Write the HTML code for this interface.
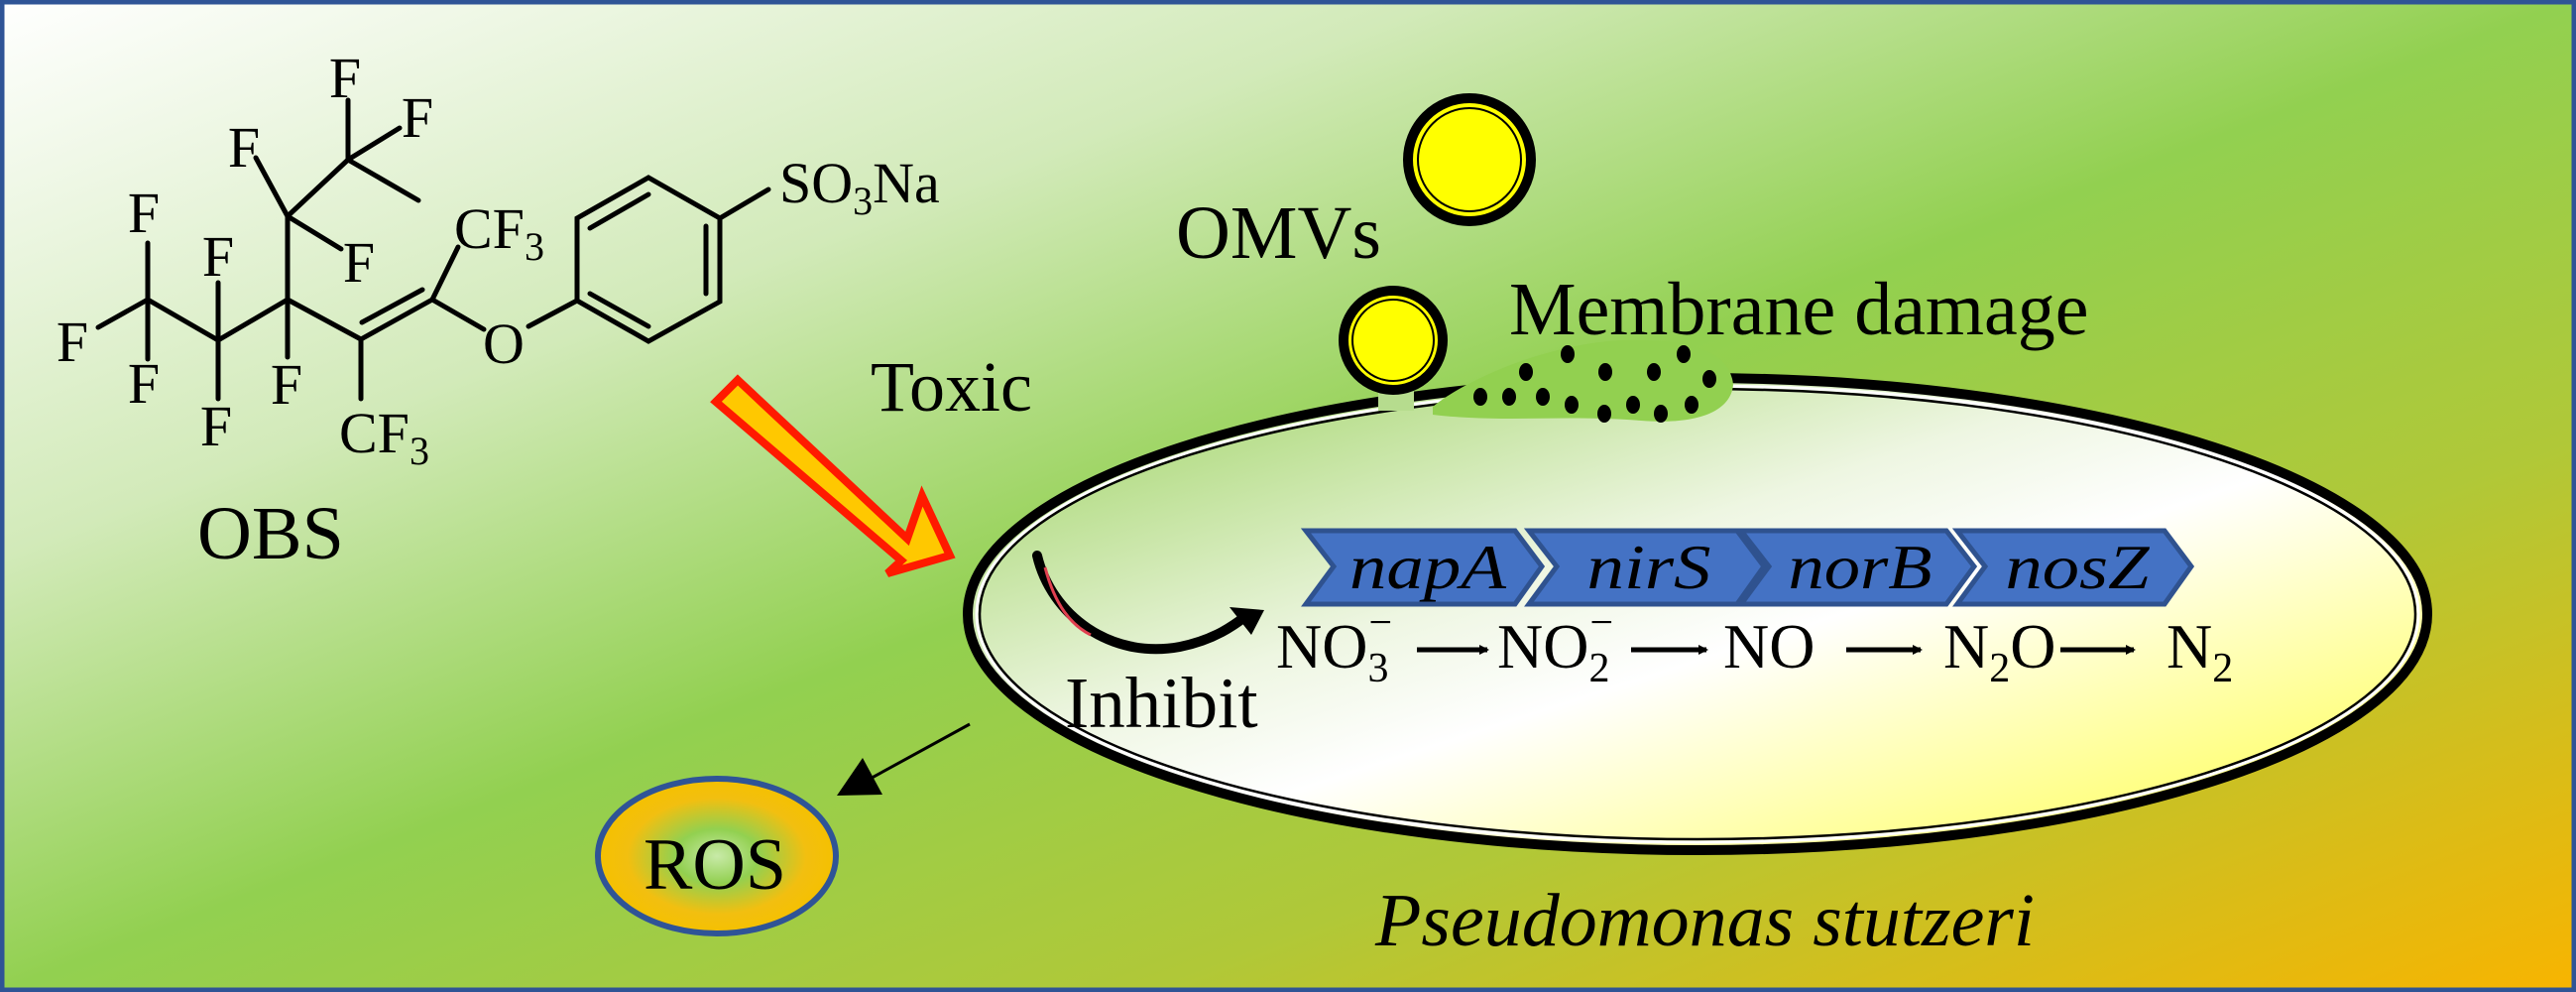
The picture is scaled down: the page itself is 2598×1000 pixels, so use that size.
<!DOCTYPE html>
<html><head><meta charset="utf-8"><style>
html,body{margin:0;padding:0}
body{width:2598px;height:1000px;overflow:hidden}
svg{display:block}
text{font-family:"Liberation Serif",serif;fill:#000}
</style></head><body>
<svg width="2598" height="1000" viewBox="0 0 2598 1000" xmlns="http://www.w3.org/2000/svg">
<defs>
<linearGradient id="bg" x1="0" y1="0" x2="1" y2="1">
<stop offset="0" stop-color="#ffffff"/>
<stop offset="0.28" stop-color="#d2eab9"/>
<stop offset="0.5" stop-color="#92d050"/>
<stop offset="0.72" stop-color="#b0c838"/>
<stop offset="1" stop-color="#f8b400"/>
</linearGradient>
<linearGradient id="cell" x1="0" y1="0" x2="1" y2="1">
<stop offset="0" stop-color="#98d05a"/>
<stop offset="0.4" stop-color="#eef6e2"/>
<stop offset="0.55" stop-color="#ffffff"/>
<stop offset="1" stop-color="#ffff40"/>
</linearGradient>
<radialGradient id="ros" cx="0.5" cy="0.5" r="0.5">
<stop offset="0" stop-color="#c8eaa8"/>
<stop offset="0.35" stop-color="#92d050"/>
<stop offset="0.75" stop-color="#f2bf10"/>
<stop offset="1" stop-color="#f5c000"/>
</radialGradient>
<marker id="ah" markerWidth="10" markerHeight="10" refX="8" refY="5" orient="auto" markerUnits="userSpaceOnUse" viewBox="0 0 10 10">
<path d="M0,0 L10,5 L0,10 z" fill="#000"/>
</marker>
</defs>
<rect x="0" y="0" width="2598" height="1000" fill="url(#bg)"/>
<rect x="2" y="2" width="2594" height="996" fill="none" stroke="#2f5496" stroke-width="5"/>

<!-- molecule -->
<g stroke="#000" stroke-width="5" fill="none" stroke-linecap="round">
<line x1="149" y1="302" x2="149" y2="245"/>
<line x1="149" y1="302" x2="99" y2="330"/>
<line x1="149" y1="302" x2="149" y2="362"/>
<line x1="149" y1="302" x2="220" y2="343"/>
<line x1="220" y1="343" x2="220" y2="285"/>
<line x1="220" y1="343" x2="220" y2="402"/>
<line x1="220" y1="343" x2="290" y2="302"/>
<line x1="290" y1="302" x2="290" y2="360"/>
<line x1="290" y1="302" x2="290" y2="218"/>
<line x1="290" y1="218" x2="258" y2="159"/>
<line x1="290" y1="218" x2="344" y2="251"/>
<line x1="290" y1="218" x2="351" y2="161"/>
<line x1="351" y1="161" x2="351" y2="101"/>
<line x1="351" y1="161" x2="403" y2="129"/>
<line x1="351" y1="161" x2="422" y2="202"/>
<line x1="290" y1="302" x2="364" y2="342"/>
<line x1="364" y1="342" x2="364" y2="402"/>
<line x1="364" y1="342" x2="436" y2="302"/>
<line x1="365" y1="325" x2="426" y2="292"/>
<line x1="436" y1="302" x2="462" y2="249"/>
<line x1="436" y1="302" x2="488" y2="332"/>
<line x1="533" y1="329" x2="582" y2="303"/>
<polygon points="582,303 582,220 654,179 726,220 726,304 654,344"/>
<line x1="595" y1="230" x2="654" y2="196"/>
<line x1="712" y1="228" x2="712" y2="296"/>
<line x1="595" y1="296" x2="654" y2="329"/>
<line x1="726" y1="220" x2="775" y2="191"/>
</g>
<g font-size="58" text-anchor="middle">
<text x="145" y="234">F</text>
<text x="73" y="364">F</text>
<text x="145" y="406">F</text>
<text x="220" y="278">F</text>
<text x="218" y="449">F</text>
<text x="289" y="407">F</text>
<text x="246" y="168">F</text>
<text x="362" y="284">F</text>
<text x="348" y="98">F</text>
<text x="421" y="138">F</text>
<text x="508" y="366">O</text>
</g>
<g font-size="58">
<text x="342" y="456">CF<tspan font-size="40" dy="12">3</tspan></text>
<text x="458" y="250">CF<tspan font-size="40" dy="12">3</tspan></text>
<text x="786" y="204">SO<tspan font-size="40" dy="12">3</tspan><tspan dy="-12">Na</tspan></text>
</g>
<text x="199" y="563" font-size="76">OBS</text>

<!-- toxic arrow -->
<polygon points="722,405 744,383 915,543 930,500 958,560 895,578 909,565" fill="#ffc800" stroke="#ff1a00" stroke-width="8" stroke-linejoin="miter"/>
<text x="878" y="414" font-size="72">Toxic</text>

<!-- OMVs -->
<circle cx="1482" cy="161" r="62" fill="#ffff00" stroke="#000" stroke-width="10"/>
<circle cx="1482" cy="161" r="52" fill="none" stroke="#000" stroke-width="2"/>
<text x="1186" y="260" font-size="76">OMVs</text>

<!-- cell -->
<ellipse cx="1712" cy="619" rx="736" ry="238" fill="url(#cell)" stroke="#000" stroke-width="10"/>
<ellipse cx="1712" cy="619" rx="727" ry="230" fill="none" stroke="#fff" stroke-width="3"/>
<ellipse cx="1712" cy="619" rx="724" ry="227" fill="none" stroke="#000" stroke-width="2.5"/>
<!-- membrane damage bump -->
<path d="M1445,410 C1475,385 1560,345 1640,343 C1700,342 1745,352 1748,388 C1745,418 1705,428 1655,424 C1605,420 1560,422 1520,422 C1490,422 1460,420 1445,418 Z" fill="#92d050"/>
<rect x="1390" y="380" width="36" height="34" fill="#b6dc8e"/>
<g fill="#000">
<ellipse cx="1581" cy="357" rx="7" ry="9"/><ellipse cx="1698" cy="357" rx="7" ry="9"/>
<ellipse cx="1539" cy="375" rx="7" ry="9"/><ellipse cx="1619" cy="375" rx="7" ry="9"/>
<ellipse cx="1668" cy="375" rx="7" ry="9"/><ellipse cx="1724" cy="382" rx="7" ry="9"/>
<ellipse cx="1493" cy="400" rx="7" ry="9"/><ellipse cx="1522" cy="400" rx="7" ry="9"/>
<ellipse cx="1556" cy="400" rx="7" ry="9"/><ellipse cx="1585" cy="408" rx="7" ry="9"/>
<ellipse cx="1618" cy="417" rx="7" ry="9"/><ellipse cx="1647" cy="408" rx="7" ry="9"/>
<ellipse cx="1675" cy="417" rx="7" ry="9"/><ellipse cx="1706" cy="408" rx="7" ry="9"/>
</g>
<circle cx="1405" cy="343" r="50" fill="#ffff00" stroke="#000" stroke-width="10"/>
<circle cx="1405" cy="343" r="41" fill="none" stroke="#000" stroke-width="2"/>
<text x="1522" y="337" font-size="76">Membrane damage</text>

<!-- genes -->
<g fill="#4472c4" stroke="#2f528f" stroke-width="5">
<polygon points="1317,535 1528,535 1555,571 1528,609 1317,609 1345,571"/>
<polygon points="1542,535 1752,535 1779,571 1752,609 1542,609 1570,571"/>
<polygon points="1756,535 1963,535 1991,571 1963,609 1756,609 1784,571"/>
<polygon points="1974,535 2183,535 2210,571 2183,609 1974,609 2002,571"/>
</g>
<g font-size="64" font-style="italic" text-anchor="middle">
<text x="1440" y="593" fill="#fff" textLength="158" lengthAdjust="spacingAndGlyphs">napA</text>
<text x="1663" y="593" fill="#fff" textLength="125" lengthAdjust="spacingAndGlyphs">nirS</text>
<text x="1876" y="593" fill="#fff" textLength="145" lengthAdjust="spacingAndGlyphs">norB</text>
<text x="2095" y="593" fill="#fff" textLength="145" lengthAdjust="spacingAndGlyphs">nosZ</text>
</g>

<!-- reaction -->
<g font-size="64">
<text x="1287" y="673">NO<tspan font-size="42" dy="14">3</tspan><tspan font-size="42" dx="-20" dy="-46">−</tspan></text>
<text x="1510" y="673">NO<tspan font-size="42" dy="14">2</tspan><tspan font-size="42" dx="-20" dy="-46">−</tspan></text>
<text x="1738" y="673">NO</text>
<text x="1960" y="673">N<tspan font-size="42" dy="14">2</tspan><tspan dy="-14">O</tspan></text>
<text x="2185" y="673">N<tspan font-size="42" dy="14">2</tspan></text>
</g>
<g stroke="#000" stroke-width="5" marker-end="url(#ah)">
<line x1="1429" y1="655" x2="1500" y2="655"/>
<line x1="1645" y1="655" x2="1721" y2="655"/>
<line x1="1862" y1="655" x2="1937" y2="655"/>
<line x1="2078" y1="655" x2="2152" y2="655"/>
</g>

<!-- inhibit arrow -->
<path d="M1046,560 C1060,620 1120,665 1190,652 C1225,645 1245,630 1258,620" fill="none" stroke="#000" stroke-width="10" stroke-linecap="round"/>
<path d="M1054,572 C1064,610 1080,630 1100,640" fill="none" stroke="#e04050" stroke-width="3"/>
<polygon points="1275,615 1240,612 1262,640" fill="#000"/>
<text x="1074" y="733" font-size="73">Inhibit</text>

<!-- ROS -->
<line x1="978" y1="730" x2="872" y2="788" stroke="#000" stroke-width="3"/>
<polygon points="870,764 844,802 890,801" fill="#000"/>
<ellipse cx="723" cy="863" rx="120" ry="78" fill="url(#ros)" stroke="#2f5496" stroke-width="6"/>
<text x="721" y="896" font-size="74" text-anchor="middle">ROS</text>

<text x="1387" y="953" font-size="76" font-style="italic">Pseudomonas stutzeri</text>
</svg>
</body></html>
